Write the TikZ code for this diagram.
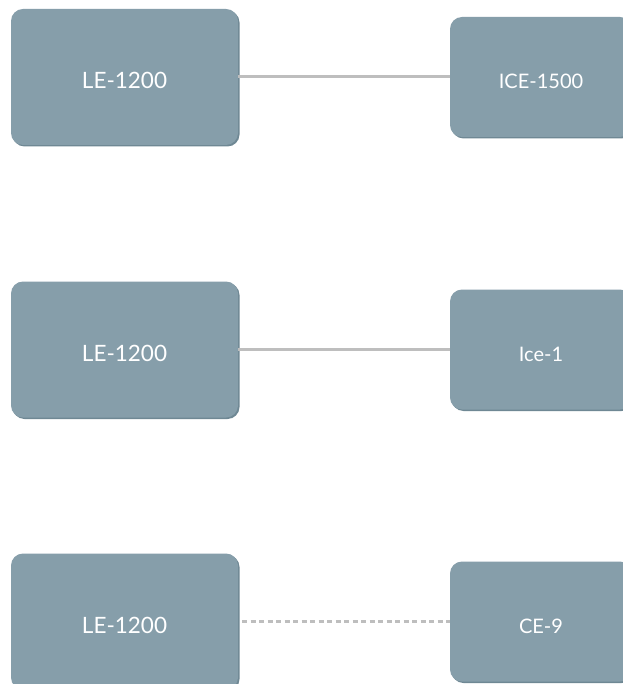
\documentclass[tikz,border=0pt]{standalone}
\usepackage{fontspec}
\setmainfont{Lato}
\usetikzlibrary{shadows}
\definecolor{boxfill}{HTML}{869EAA}
\definecolor{boxedge}{HTML}{6F8894}
\definecolor{linkgray}{HTML}{BEBEBE}
\begin{document}
\begin{tikzpicture}[x=1pt, y=-1pt, left node/.style={rectangle, rounded corners=12pt, fill=boxfill, text=white, minimum width=227pt, minimum height=136pt, text height=23pt, text depth=0pt, font=\fontsize{22.5}{27}\selectfont, drop shadow={shadow xshift=1.5pt, shadow yshift=-1.5pt, fill=boxedge, opacity=1}}, right node/.style={left node, minimum width=182pt, minimum height=120pt, text height=23.5pt, font=\fontsize{20}{24}\selectfont}, link/.style={draw=linkgray, line width=3pt}]
\useasboundingbox[fill=white] (0,0) rectangle (622,684);
\node[left node] (le1) at (124.5,77) {LE-1200};
\node[right node] (ice1500) at (541,77) {ICE-1500};
\node[left node] (le2) at (124.5,349.5) {LE-1200};
\node[right node] (ice1) at (541,349.5) {Ice-1};
\node[left node] (le3) at (124.5,621.5) {LE-1200};
\node[right node] (ce9) at (541,621.5) {CE-9};
\path
(le1) edge[link] (ice1500)
(le2) edge[link] (ice1)
(le3) edge[link, dash pattern=on 5pt off 3.5pt, shorten <=4pt] (ce9);
\end{tikzpicture}
\end{document}
